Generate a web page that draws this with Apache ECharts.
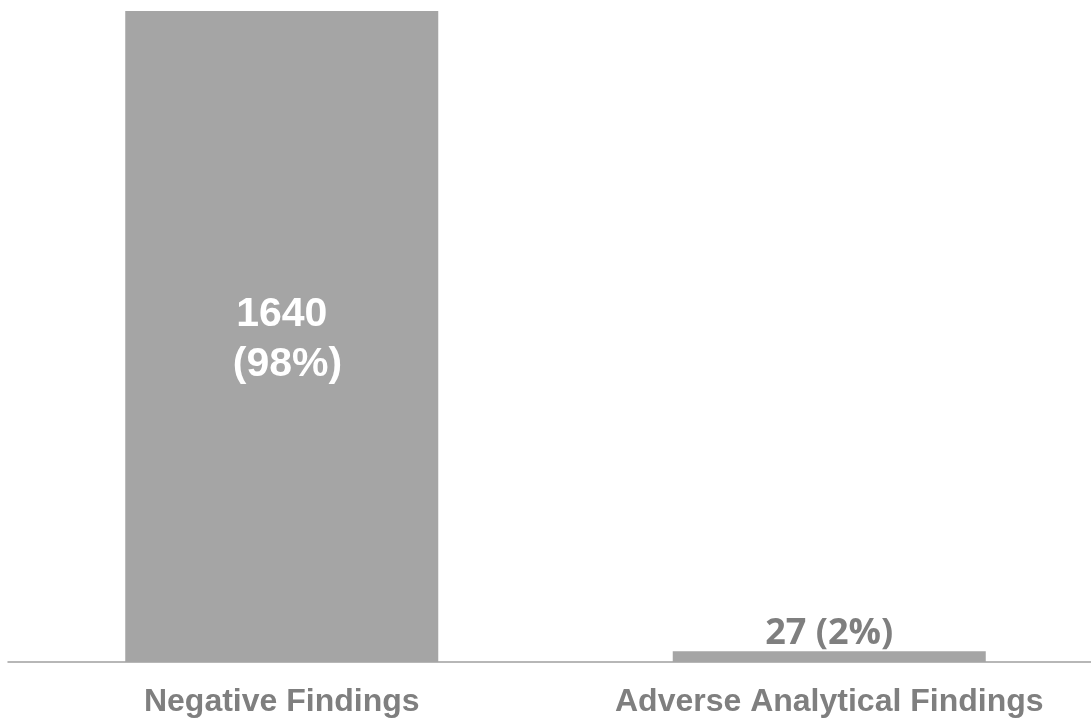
<!DOCTYPE html>
<html><head><meta charset="utf-8">
<script src="https://cdn.jsdelivr.net/npm/echarts@6/dist/echarts.min.js"></script>
<style>html,body{margin:0;padding:0;background:#fff}#c{width:1091px;height:722px}</style>
</head><body><div id="c"></div>
<script>
const categories = ['Negative Findings', 'Adverse Analytical Findings'];
const values = [1640, 27];
const percents = ['98%', '2%'];

const chart = echarts.init(document.getElementById('c'));
chart.setOption({
  animation: false,
  grid: { left: 8, width: 1095, top: 11, height: 651, outerBoundsMode: 'none', containLabel: false },
  xAxis: {
    type: 'category', data: categories,
    axisLine: { lineStyle: { color: '#a0a0a0', width: 1.5 } },
    axisTick: { show: false },
    axisLabel: { interval: 0, hideOverlap: false, color: '#7f7f7f', fontFamily: 'Liberation Sans', fontWeight: 'bold', fontSize: 32, margin: 24 }
  },
  yAxis: { type: 'value', min: 0, max: 1640, show: false, splitLine: { show: false } },
  series: [{
    type: 'bar', barWidth: 313,
    itemStyle: { color: '#a5a5a5' },
    data: values.map((v, i) => ({
      value: v,
      label: i === 0 ? {
        show: true, position: 'inside', color: '#ffffff', fontFamily: 'Liberation Sans', fontWeight: 'bold',
        fontSize: 41, lineHeight: 50, offset: [0, 3], formatter: v + '\n (' + percents[i] + ')'
      } : {
        show: true, position: 'top', color: '#7f7f7f', fontFamily: 'Open Sans', fontWeight: 'bold',
        fontSize: 36, distance: 0, formatter: v + ' (' + percents[i] + ')'
      }
    }))
  }]
});
</script></body></html>
